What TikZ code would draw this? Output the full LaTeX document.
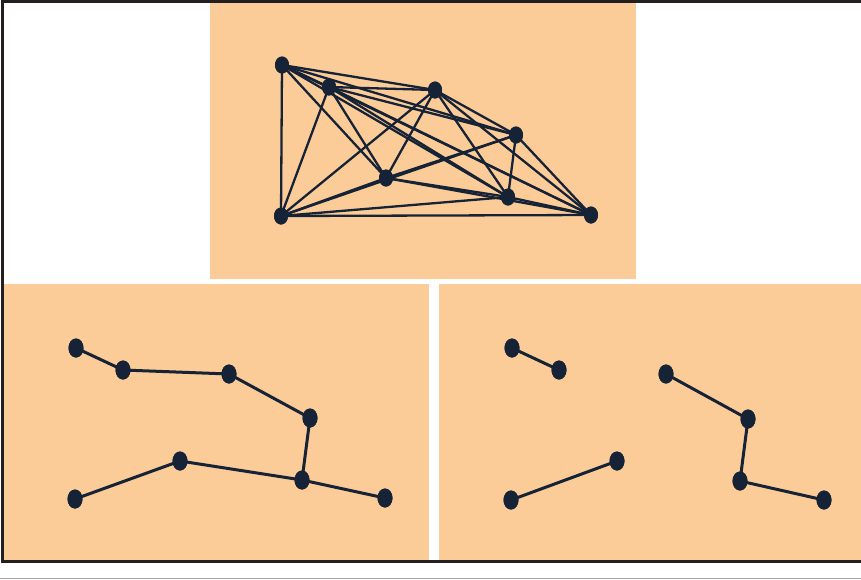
\documentclass[tikz,border=0pt]{standalone}
\usepackage{tikz}
\usetikzlibrary{shapes.geometric}
\definecolor{panel}{RGB}{251,204,152}
\definecolor{ink}{RGB}{22,34,54}
\definecolor{frame}{RGB}{35,31,32}
\begin{document}
\begin{tikzpicture}[x=1pt,y=-1pt,
  vtx/.style={ellipse,fill=ink,draw=none,minimum width=14pt,minimum height=17pt,inner sep=0pt},
  bvtx/.style={vtx,minimum width=15pt,minimum height=19pt},
  tedge/.style={ink,line width=2.3pt},
  bedge/.style={ink,line width=3pt},
  panelbox/.style={fill=panel,draw=none}]
\useasboundingbox (0,0) rectangle (861,579);
\fill[white] (0,0) rectangle (861,579);
% panels
\fill[panelbox] (210,3) rectangle (636,279);
\fill[panelbox] (3,284) rectangle (429,560);
\fill[panelbox] (439,284) rectangle (861,560);
% frame
\draw[frame,line width=3pt] (861,1.5) -- (2,1.5) -- (2,561) -- (861,561);
\draw[black!35,line width=1pt] (0,578) -- (861,578);
% top graph K8
\node[vtx] (a) at (282,65) {};
\node[vtx] (b) at (329,87) {};
\node[vtx] (c) at (435,90) {};
\node[vtx] (d) at (516,135) {};
\node[vtx] (e) at (386,178) {};
\node[vtx] (f) at (508,197) {};
\node[vtx] (g) at (281,216) {};
\node[vtx] (h) at (591,215) {};
\foreach \u/\v in {a/b,a/c,a/d,a/e,a/f,a/g,a/h,b/c,b/d,b/e,b/f,b/g,b/h,c/d,c/e,c/f,c/g,c/h,d/e,d/f,d/g,d/h,e/f,e/g,e/h,f/g,f/h,g/h}
  \draw[tedge] (\u.center) -- (\v.center);
% bottom-left spanning tree
\node[bvtx] (la) at (76,348) {};
\node[bvtx] (lb) at (123,370) {};
\node[bvtx] (lc) at (229,374) {};
\node[bvtx] (ld) at (310,418) {};
\node[bvtx] (le) at (180,461) {};
\node[bvtx] (lf) at (302,480) {};
\node[bvtx] (lg) at (75,499) {};
\node[bvtx] (lh) at (385,498) {};
\foreach \u/\v in {la/lb,lb/lc,lc/ld,ld/lf,lg/le,le/lf,lf/lh}
  \draw[bedge] (\u.center) -- (\v.center);
% bottom-right forest
\node[bvtx] (ra) at (512,348) {};
\node[bvtx] (rb) at (559,370) {};
\node[bvtx] (rc) at (666,374) {};
\node[bvtx] (rd) at (748,419) {};
\node[bvtx] (re) at (617,461) {};
\node[bvtx] (rf) at (740,481) {};
\node[bvtx] (rg) at (511,500) {};
\node[bvtx] (rh) at (824,500) {};
\foreach \u/\v in {ra/rb,rc/rd,rd/rf,rf/rh,rg/re}
  \draw[bedge] (\u.center) -- (\v.center);
% redraw vertices on top
\foreach \n in {a,b,c,d,e,f,g,h} \fill[ink] (\n) ellipse (7pt and 8.5pt);
\foreach \n in {la,lb,lc,ld,le,lf,lg,lh,ra,rb,rc,rd,re,rf,rg,rh} \fill[ink] (\n) ellipse (7.5pt and 9.5pt);
\end{tikzpicture}
\end{document}
